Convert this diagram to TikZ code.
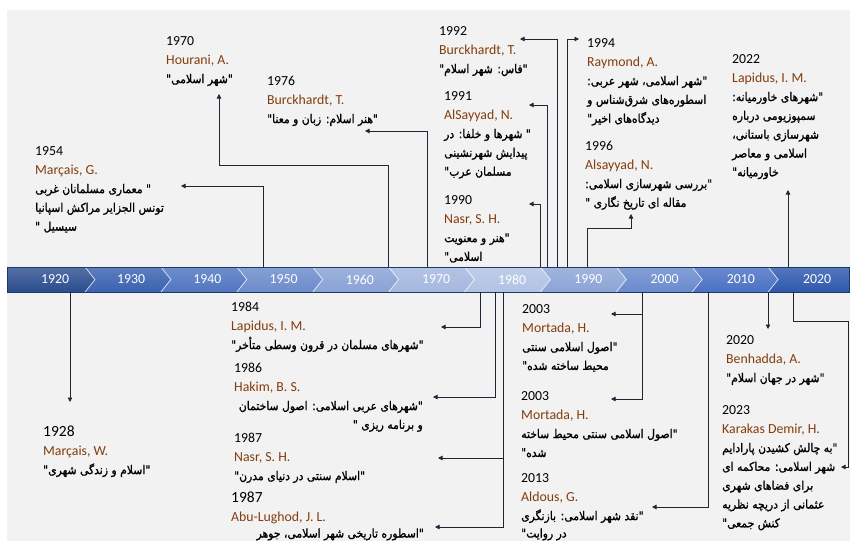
\documentclass[tikz,border=0pt]{standalone}
\usepackage{fontspec}
\setmainfont{Carlito}
\newfontfamily\arabicfont[Script=Arabic,FakeStretch=0.9,FakeBold=1.2]{DejaVu Sans}
\TeXXeTstate=1
\usetikzlibrary{arrows.meta}
\definecolor{bg}{HTML}{F2F2F2}
\definecolor{auth}{HTML}{843C0C}
\definecolor{linec}{HTML}{1F2533}
\definecolor{barline}{HTML}{1F3864}
\definecolor{seg0}{HTML}{2A4C8E}
\definecolor{seg1}{HTML}{3A62B0}
\definecolor{seg2}{HTML}{5075C0}
\definecolor{seg3}{HTML}{6C8BCB}
\definecolor{seg4}{HTML}{89A2D5}
\definecolor{seg5}{HTML}{A4B7DE}
\definecolor{seg6}{HTML}{B1C2E4}
\definecolor{seg7}{HTML}{8CA4D6}
\definecolor{seg8}{HTML}{6A8ACE}
\definecolor{seg9}{HTML}{4A71C3}
\definecolor{seg10}{HTML}{2F59AE}
\newcommand\fa[1]{{\arabicfont\fontsize{12}{18.8}\selectfont\beginR #1\endR}}
\newcommand\au[1]{\textcolor{auth}{#1}}
\newcommand\tb[1]{\begin{tabular}[t]{@{}l@{}}#1\end{tabular}}
\newcommand\tbr[1]{\begin{tabular}[t]{@{}r@{}}#1\end{tabular}}
\newcommand\bigyr[1]{{\fontsize{15.5}{18.8}\selectfont #1}}
\tikzset{
  blk/.style={anchor=base west, inner sep=0pt, font=\fontsize{13.8}{18.8}\selectfont},
  blkr/.style={anchor=base east, inner sep=0pt, font=\fontsize{13.8}{18.8}\selectfont},
  yrlabel/.style={anchor=center, inner sep=0pt, text=white, font=\fontsize{13.8}{16}\selectfont},
  conn/.style={draw=linec, line width=0.8pt, -{Triangle[length=4.5pt,width=4.5pt]}},
  sep/.style={draw=white, line width=0.7pt, opacity=0.8},
}
\begin{document}
\begin{tikzpicture}[x=1pt,y=-1pt]
\useasboundingbox (0,0) rectangle (850,541);
\fill[white] (0,0) rectangle (850,541);
\fill[bg] (7,10) rectangle (850,541);

% ---- timeline bar ----
\path[top color=seg0!80!white, bottom color=seg0] (7,267) -- (85,267) -- (95,279.5) -- (85,292) -- (7,292) -- cycle;
\foreach \k in {1,...,9}{
  \pgfmathsetmacro\xa{85+75.9*(\k-1)}
  \pgfmathsetmacro\xb{85+75.9*\k}
  \path[top color=seg\k!82!white, bottom color=seg\k] (\xa,267) -- (\xb,267) -- ({\xb+10},279.5) -- (\xb,292) -- (\xa,292) -- ({\xa+10},279.5) -- cycle;
}
\path[top color=seg10!82!white, bottom color=seg10] (768.1,267) -- (849,267) -- (849,292) -- (768.1,292) -- (778.1,279.5) -- cycle;
\foreach \k in {0,...,9}{
  \pgfmathsetmacro\xb{85+75.9*\k}
  \draw[sep] (\xb,267) -- ({\xb+10},279.5) -- (\xb,292);
}
\draw[barline, line width=0.8pt] (7,267) rectangle (849,292);

\foreach \yr [count=\i from 0] in {1920,1930,1940,1950,1960,1970,1980,1990,2000,2010,2020}{
  \node[yrlabel] (y\yr) at ({55+76.2*\i},279.5) {\yr};
}

% ---- top entries ----
\node[blk] (b54) at (35,155.5) {\tb{1954\\ \au{Marçais, G.}\\ \fa{" معماری مسلمانان غربی}\\ \fa{تونس الجزایر مراکش اسپانیا}\\ \fa{سیسیل "}}};
\node[blk] (b70) at (166,45.5) {\tb{1970\\ \au{Hourani, A.}\\ \fa{"شهر اسلامی"}}};
\node[blk] (b76) at (267,85.5) {\tb{1976\\ \au{Burckhardt, T.}\\ \fa{"هنر اسلام: زبان و معنا"}}};
\node[blk] (b92) at (439,35.5) {\tb{1992\\ \au{Burckhardt, T.}\\ \fa{"فاس: شهر اسلام"}}};
\node[blk] (b91) at (444,100.5) {\tb{1991\\ \au{AlSayyad, N.}\\ \fa{" شهرها و خلفا: در}\\ \fa{پیدایش شهرنشینی}\\ \fa{مسلمان عرب"}}};
\node[blk] (b90) at (444,204.5) {\tb{1990\\ \au{Nasr, S. H.}\\ \fa{"هنر و معنویت}\\ \fa{اسلامی"}}};
\node[blk] (b94) at (587,47.5) {\tb{1994\\ \au{Raymond, A.}\\ \fa{"شهر اسلامی، شهر عربی:}\\ \fa{اسطوره‌های شرق‌شناس و}\\ \fa{دیدگاه‌های اخیر"}}};
\node[blk] (b96) at (585,150.5) {\tb{1996\\ \au{Alsayyad, N.}\\ \fa{"بررسی شهرسازی اسلامی:}\\ \fa{مقاله ای تاریخ نگاری "}}};
\node[blk] (b22) at (732,63.5) {\tb{2022\\ \au{Lapidus, I. M.}\\ \fa{"شهرهای خاورمیانه:}\\ \fa{سمپوزیومی درباره}\\ \fa{شهرسازی باستانی،}\\ \fa{اسلامی و معاصر}\\ \fa{خاورمیانه"}}};

% ---- bottom entries ----
\node[blk] (b28) at (43,436.5) {\tb{\bigyr{1928}\\ \au{Marçais, W.}\\ \fa{"اسلام و زندگی شهری"}}};
\node[blk] (b84) at (231,311.5) {\tb{1984\\ \au{Lapidus, I. M.}\\ \fa{"شهرهای مسلمان در قرون وسطی متأخر"}}};
\node[blk] (b86) at (234,372.5) {\tb{1986\\ \au{Hakim, B. S.}}};
\node[blkr] (b86t) at (423,410.1) {\tbr{\fa{"شهرهای عربی اسلامی: اصول ساختمان}\\ \fa{و برنامه ریزی "}}};
\node[blk] (b87) at (234,442.5) {\tb{1987\\ \au{Nasr, S. H.}\\ \fa{"اسلام سنتی در دنیای مدرن"}}};
\node[blk] (b87a) at (231,502.5) {\tb{\bigyr{1987}\\ \au{Abu-Lughod, J. L.}}};
\node[blkr] (b87at) at (424,537.5) {\fa{"اسطوره تاریخی شهر اسلامی، جوهر}};
\node[blk] (b03a) at (522,313.5) {\tb{2003\\ \au{Mortada, H.}\\ \fa{"اصول اسلامی سنتی}\\ \fa{محیط ساخته شده"}}};
\node[blk] (b03b) at (521,400.5) {\tb{2003\\ \au{Mortada, H.}\\ \fa{"اصول اسلامی سنتی محیط ساخته}\\ \fa{شده"}}};
\node[blk] (b13) at (521,482.5) {\tb{2013\\ \au{Aldous, G.}\\ \fa{"نقد شهر اسلامی: بازنگری}}};
\node[blk] (b13t) at (521,537.5) {\fa{در روایت"}};
\node[blk] (b20) at (726,344.5) {\tb{2020\\ \au{Benhadda, A.}\\ \fa{"شهر در جهان اسلام"}}};
\node[blk] (b23) at (722,414.5) {\tb{2023\\ \au{Karakas Demir, H.}\\ \fa{"به چالش کشیدن پارادایم}\\ \fa{شهر اسلامی: محاکمه ای}\\ \fa{برای فضاهای شهری}\\ \fa{عثمانی از دریچه نظریه}\\ \fa{کنش جمعی"}}};

% ---- connector coordinates ----
\coordinate (s54) at (263,267);  \coordinate (t54) at (181,186);
\coordinate (s70) at (388,267);  \coordinate (c70) at (219,165); \coordinate (t70) at (219,94);
\coordinate (s76) at (427,267);  \coordinate (t76) at (365,131);
\coordinate (s92) at (557,267);  \coordinate (t92) at (520,39);
\coordinate (s91) at (547,267);  \coordinate (t91) at (529,105);
\coordinate (s90) at (540,267);  \coordinate (t90) at (529,204);
\coordinate (s94) at (567,267);  \coordinate (t94) at (579,39);
\coordinate (s96) at (587,267);  \coordinate (c96) at (631,228); \coordinate (t96) at (631,214);
\coordinate (s22) at (788,267);  \coordinate (t22) at (788,190);
\coordinate (s28) at (70,292);   \coordinate (t28) at (70,402);
\coordinate (s84) at (480,292);  \coordinate (t84) at (441,327);
\coordinate (s86) at (495,292);  \coordinate (t86) at (433,397);
\coordinate (s87) at (503,292);  \coordinate (t87) at (438,458);
\coordinate (t87a) at (435,527);
\coordinate (s03) at (642,292);  \coordinate (t03a) at (611,314); \coordinate (t03b) at (611,399);
\coordinate (s13) at (708,292);  \coordinate (t13) at (652,507);
\coordinate (s20) at (768,292);  \coordinate (t20) at (768,329);
\coordinate (s23) at (793,292);  \coordinate (c23) at (848,321); \coordinate (t23) at (841,467);

\draw[conn] (s54) |- (t54);
\draw[conn] (s70) |- (c70) -- (t70);
\draw[conn] (s76) |- (t76);
\draw[conn] (s92) |- (t92);
\draw[conn] (s91) |- (t91);
\draw[conn] (s90) |- (t90);
\draw[conn] (s94) |- (t94);
\draw[conn] (s96) |- (c96) -- (t96);
\draw[conn] (s22) -- (t22);
\draw[conn] (s28) -- (t28);
\draw[conn] (s84) |- (t84);
\draw[conn] (s86) |- (t86);
\draw[conn] (s87) |- (t87);
\draw[conn] (s87) |- (t87a);
\draw[conn] (s03) |- (t03a);
\draw[conn] (s03) |- (t03b);
\draw[conn] (s13) |- (t13);
\draw[conn] (s20) -- (t20);
\draw[conn] (s23) |- (c23) |- (t23);
\end{tikzpicture}
\end{document}
